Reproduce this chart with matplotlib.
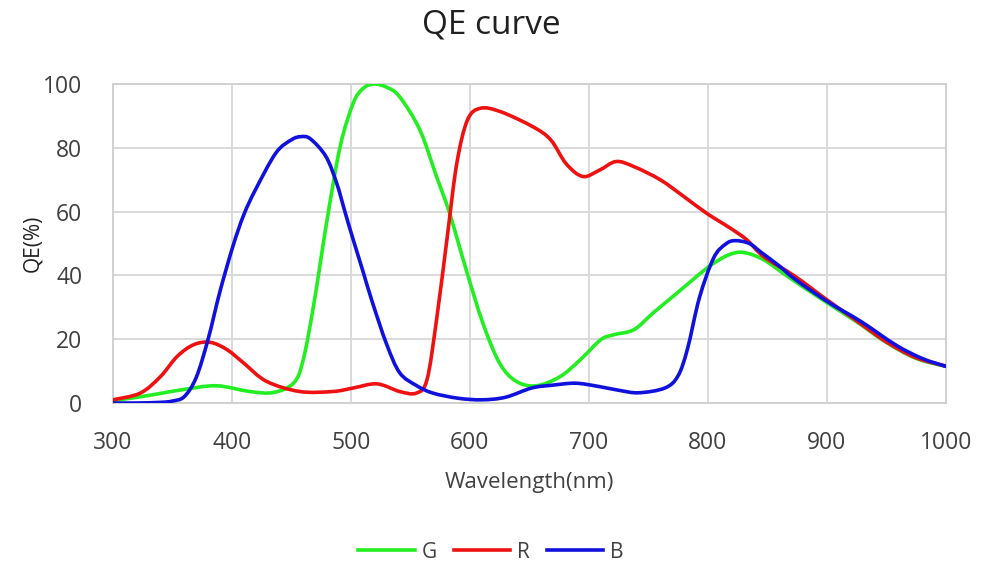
import matplotlib
matplotlib.use("Agg")
import matplotlib.pyplot as plt
from matplotlib.path import Path
from matplotlib.patches import PathPatch
import numpy as np

# ---- data ----
g_x = [300, 317, 340, 359, 387, 415, 435, 452, 460, 469, 480, 491, 502, 510, 519, 530, 541, 558, 572, 583, 597, 611, 625, 639, 656, 676, 693, 710, 721, 738, 754, 774, 794, 805, 818, 830, 847, 869, 900, 925, 950, 975, 1000]
g_y = [0.8, 1.6, 3.0, 4.2, 5.4, 3.6, 3.3, 6.3, 13.6, 31.3, 57.4, 80.4, 94.0, 98.5, 100.0, 99.0, 96.0, 85.6, 71.0, 59.5, 41.7, 25.0, 12.5, 6.8, 5.4, 8.3, 13.6, 19.8, 21.4, 23.0, 28.2, 34.4, 40.7, 43.8, 46.5, 47.2, 44.9, 39.2, 31.5, 25.5, 19.0, 14.0, 11.5]

r_x = [300, 323, 340, 354, 368, 382, 396, 410, 429, 457, 485, 502, 522, 541, 555, 564, 572, 581, 589, 598, 609, 626, 653, 668, 681, 695, 709, 723, 738, 760, 780, 799, 819, 833, 847, 873, 900, 925, 950, 975, 1000]
r_y = [1.0, 3.1, 8.3, 14.6, 18.3, 19.0, 16.7, 12.5, 6.8, 3.6, 3.6, 4.7, 6.0, 3.6, 3.1, 7.3, 26.0, 52.0, 75.0, 88.7, 92.4, 91.3, 86.6, 82.5, 75.0, 71.0, 73.0, 75.7, 74.1, 70.0, 64.7, 59.5, 54.8, 51.1, 45.9, 39.8, 32.4, 25.8, 19.2, 14.2, 11.6]

b_x = [300, 320, 340, 350, 360, 370, 380, 390, 401, 410, 420, 437, 450, 458, 466, 479, 488, 495, 501, 510, 518, 530, 541, 555, 569, 590, 610, 630, 652, 670, 689, 708, 725, 742, 764, 775, 783, 793, 805, 815, 823, 835, 845, 860, 873, 901, 929, 958, 980, 1000]
b_y = [0.0, 0.0, 0.2, 0.6, 2.0, 8.0, 20.0, 35.0, 49.3, 59.0, 67.0, 78.4, 82.5, 83.5, 82.8, 77.3, 69.0, 60.0, 52.4, 41.5, 31.7, 18.5, 9.5, 5.5, 3.1, 1.5, 1.0, 1.8, 4.7, 5.6, 6.2, 5.2, 4.0, 3.2, 4.7, 8.5, 17.0, 33.0, 45.5, 49.8, 50.9, 50.0, 47.2, 43.0, 38.9, 31.7, 25.5, 18.2, 14.0, 11.5]

x_ticks = [300, 400, 500, 600, 700, 800, 900, 1000]
y_ticks = [0, 20, 40, 60, 80, 100]
series_names = ["G", "R", "B"]
series_colors = ['#22ee22', '#ee1111', '#1111dd']

plt.rcParams['font.family'] = ['Open Sans', 'DejaVu Sans']

fig = plt.figure(figsize=(9.82, 5.70), dpi=100)
ax = fig.add_axes([0.115, 0.293, 0.848, 0.5596])


def smooth_path(xs, ys):
    """Catmull-Rom spline through the data points, drawn as cubic Bezier segments."""
    p = np.column_stack([xs, ys]).astype(float)
    n = len(p)
    verts = [p[0]]
    codes = [Path.MOVETO]
    for i in range(n - 1):
        p0 = p[i - 1] if i > 0 else p[i]
        p1 = p[i]
        p2 = p[i + 1]
        p3 = p[i + 2] if i + 2 < n else p[i + 1]
        c1 = p1 + (p2 - p0) / 6.0
        c2 = p2 - (p3 - p1) / 6.0
        verts += [c1, c2, p2]
        codes += [Path.CURVE4] * 3
    return Path(verts, codes)


lw = 2.6
for xs, ys, name, col in zip([g_x, r_x, b_x], [g_y, r_y, b_y], series_names, series_colors):
    patch = PathPatch(smooth_path(xs, ys), facecolor='none', edgecolor=col,
                      lw=lw, capstyle='round', joinstyle='round', zorder=3)
    ax.add_patch(patch)
    ax.plot([], [], color=col, lw=lw, label=name)

ax.set_xlim(300, 1000)
ax.set_ylim(0, 100)
ax.set_xticks(x_ticks)
ax.set_yticks(y_ticks)
ax.grid(True, color='#d9d9d9', lw=1.4)
ax.set_axisbelow(True)
for s in ax.spines.values():
    s.set_color('#d0d0d0')
    s.set_linewidth(1.4)
ax.tick_params(length=0, labelsize=16.5, colors='#404040')
ax.tick_params(axis='x', pad=20)
ax.tick_params(axis='y', pad=22)

ax.set_xlabel('Wavelength(nm)', fontsize=16, color='#404040', va='center')
ax.xaxis.set_label_coords(0.5, -0.25)
ax.set_ylabel('QE(%)', fontsize=15, color='#202020', va='center')
ax.yaxis.set_label_coords(-0.096, 0.5)
fig.suptitle('QE curve', fontsize=24, color='#202020', y=0.985)

fig.legend(loc='lower center', ncol=3, frameon=False, fontsize=15,
           bbox_to_anchor=(0.5, -0.02), handlelength=2.7, columnspacing=0.8,
           labelcolor='#404040', handletextpad=0.35)

fig.savefig('out.png', dpi=100, facecolor='white')
